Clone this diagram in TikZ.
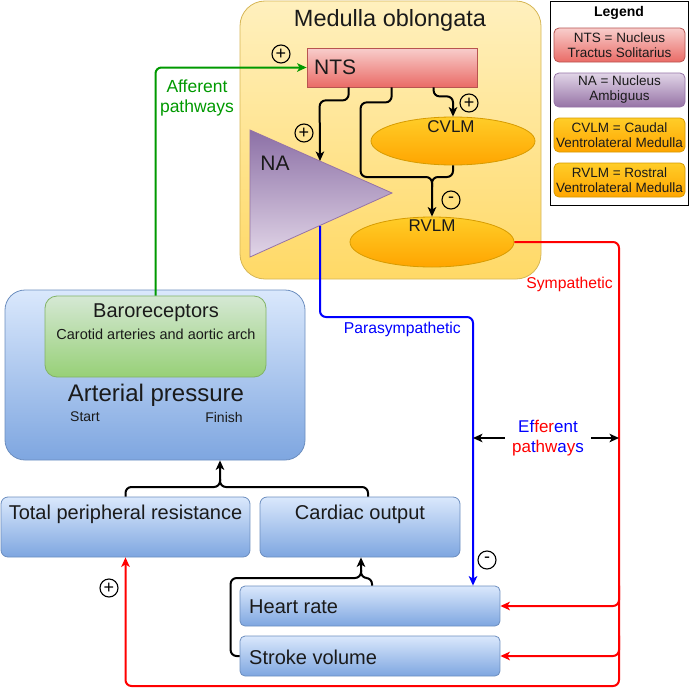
\documentclass[tikz,border=0pt]{standalone}
\usepackage{fontspec}
\setmainfont{Liberation Sans}
\usetikzlibrary{arrows.meta,calc,shapes.geometric}
\definecolor{medtop}{HTML}{FFF0BE}
\definecolor{medbot}{HTML}{FFD966}
\definecolor{medbd}{HTML}{D6B656}
\definecolor{redtop}{HTML}{F8CECC}
\definecolor{redbot}{HTML}{EA6B66}
\definecolor{redbd}{HTML}{B85450}
\definecolor{purdark}{HTML}{8C70A6}
\definecolor{purlight}{HTML}{E1D5E7}
\definecolor{purbd}{HTML}{9673A6}
\definecolor{orgtop}{HTML}{FFCD28}
\definecolor{orgbot}{HTML}{FFA500}
\definecolor{orgbd}{HTML}{D79B00}
\definecolor{bluetop}{HTML}{DAE8FC}
\definecolor{bluebot}{HTML}{7EA6E0}
\definecolor{bluebd}{HTML}{6C8EBF}
\definecolor{grntop}{HTML}{D5E8D4}
\definecolor{grnbot}{HTML}{97D077}
\definecolor{grnbd}{HTML}{82B366}
\definecolor{txt}{HTML}{1A1A1A}
\definecolor{afgreen}{HTML}{009900}
\newcommand{\B}[1]{\textcolor{blue}{#1}}
\newcommand{\R}[1]{\textcolor{red}{#1}}
\begin{document}
\begin{tikzpicture}[x=1pt,y=-1pt,
  fs/.style 2 args={font=\fontsize{#1}{#2}\selectfont},
  >={Stealth[length=9.5pt,width=8.5pt,inset=2.5pt]},
  shape box/.style={rectangle, inner sep=0pt, line width=0.8pt},
  bluebox/.style={shape box, draw=bluebd, top color=bluetop, bottom color=bluebot},
  grnbox/.style={shape box, draw=grnbd, top color=grntop, bottom color=grnbot},
  redbox/.style={shape box, draw=redbd, top color=redtop, bottom color=redbot},
  purbox/.style={shape box, draw=purbd, top color=purlight, bottom color=purbd},
  orgbox/.style={shape box, draw=orgbd, top color=orgtop, bottom color=orgbot},
  oval/.style={ellipse, inner sep=0pt, line width=0.8pt, draw=orgbd, top color=orgtop, bottom color=orgbot},
  sign/.style={circle, draw, line width=1.1pt, inner sep=0pt, minimum size=18pt, fs={18}{18}},
  blk/.style={line width=2pt, black, rounded corners=6pt},
  red line/.style={line width=2pt, red, rounded corners=6pt},
  blue line/.style={line width=2pt, blue, rounded corners=6pt},
  green line/.style={line width=2pt, afgreen, rounded corners=6pt},
  legtxt/.style={fs={13.5}{15}, align=center, text=txt}
]
\useasboundingbox (0,0) rectangle (690,696);

% Medulla
\node[shape box, draw=medbd, top color=medtop, bottom color=medbot, rounded corners=25pt,
      minimum width=301pt, minimum height=278pt] (med) at (390.5,140) {};
\node[fs={23.5}{28}, text=txt] (medt) at (390,20) {Medulla oblongata};

% NTS
\node[redbox, minimum width=170pt, minimum height=39pt] (NTS) at (392,67.5) {};
\node[fs={21}{24}, text=txt, anchor=west, inner sep=0pt] (NTSt) at (314,67.5) {NTS};

% NA triangle
\path[draw=purbd, line width=0.8pt, top color=purdark, bottom color=purlight]
  (250,130) -- (250,257) -- (392,193) -- cycle;
\node[fs={21}{24}, text=txt] (NA) at (275,163) {NA};
\coordinate (NAin) at (320,161);
\coordinate (NAout) at (320,226);

% CVLM / RVLM
\node[oval, minimum width=164pt, minimum height=48pt] (CVLM) at (453,141) {};
\node[fs={17}{19}, text=txt] (CVLMt) at (451,127) {CVLM};
\node[oval, minimum width=164pt, minimum height=50pt] (RVLM) at (432,242) {};
\node[fs={17}{19}, text=txt] (RVLMt) at (432,226) {RVLM};
\coordinate (join) at (432,177);

% Legend
\node[shape box, draw=black, line width=0.9pt, fill=white, minimum width=138pt, minimum height=204pt] (leg) at (619,103.5) {};
\node (legt) at (619,13) {\fontsize{14}{16}\selectfont\bfseries Legend};
\node[redbox, rounded corners=5pt, minimum width=131pt, minimum height=34pt, legtxt] (l1) at (619.5,45) {NTS = Nucleus\\Tractus Solitarius};
\node[purbox, rounded corners=5pt, minimum width=131pt, minimum height=34pt, legtxt] (l2) at (619.5,90) {NA = Nucleus\\Ambiguus};
\node[orgbox, rounded corners=5pt, minimum width=131pt, minimum height=34pt, legtxt] (l3) at (619.5,135) {CVLM = Caudal\\Ventrolateral Medulla};
\node[orgbox, rounded corners=5pt, minimum width=131pt, minimum height=34pt, legtxt] (l4) at (619.5,180) {RVLM = Rostral\\Ventrolateral Medulla};

% Arterial pressure
\node[bluebox, rounded corners=20pt, minimum width=300pt, minimum height=170pt] (AP) at (155,375) {};
\node[grnbox, rounded corners=12pt, minimum width=221pt, minimum height=81pt] (Baro) at (155.5,336.5) {};
\node[fs={20}{24}, text=txt] (barot) at (156,313) {Baroreceptors};
\node[fs={14.5}{17}, text=txt] (carot) at (156,334) {Carotid arteries and aortic arch};
\node[fs={24}{28}, text=txt] (APt) at (156,395) {Arterial pressure};
\node[fs={14}{16}, text=txt] (start) at (85,417) {Start};
\node[fs={14}{16}, text=txt] (finish) at (224,417) {Finish};

% Lower boxes
\node[bluebox, rounded corners=7pt, minimum width=249pt, minimum height=60pt] (TPR) at (125.5,527) {};
\node[fs={20}{24}, text=txt] (TPRt) at (125.5,514) {Total peripheral resistance};
\node[bluebox, rounded corners=7pt, minimum width=200pt, minimum height=60pt] (CO) at (360,527) {};
\node[fs={20}{24}, text=txt] (COt) at (360,514) {Cardiac output};
\node[bluebox, rounded corners=5pt, minimum width=260pt, minimum height=40pt] (HR) at (370,606) {};
\node[fs={20}{24}, text=txt, anchor=west, inner sep=0pt] (HRt) at (249,607) {Heart rate};
\node[bluebox, rounded corners=5pt, minimum width=260pt, minimum height=40pt] (SV) at (370,656) {};
\node[fs={20}{24}, text=txt, anchor=west, inner sep=0pt] (SVt) at (249,657) {Stroke volume};

% Signs
\node[sign] (s1) at (281,54) {+};
\node[sign] (s2) at (304,133) {+};
\node[sign] (s3) at (469,103) {+};
\node[sign] (s4) at (451,200) {-};
\node[sign] (s5) at (487,560) {-};
\node[sign] (s6) at (109,588) {+};

% Labels
\node[fs={17.5}{20}, text=afgreen, align=center] (aff) at (197,98) {Afferent\\pathways};
\node[fs={15.7}{19}, text=blue, anchor=east, inner sep=0pt] (para) at (461,329) {Parasympathetic};
\node[fs={15.7}{19}, text=red, anchor=east, inner sep=0pt] (symp) at (613,284) {Sympathetic};
\node[fs={17}{19.5}, align=center, inner xsep=7pt, inner ysep=0pt] (eff) at (548,438)
  {\B{Ef}\R{fer}\B{ent}\\\R{pa}\B{t}\R{hw}\B{a}\R{y}\B{s}};

% Medulla connectors
\draw[blk,->] ([xshift=42pt]NTS.south west) -- ++(0,13) -- ++(-29,0) -- (NAin);
\draw[blk,->] ([xshift=127pt]NTS.south west) -- ++(0,9) -| (CVLM.north);
\draw[blk,->] ([xshift=85pt]NTS.south west) -- ++(0,15) -- ++(-31,0) |- (join) -- (RVLM.north);
\draw[blk] (CVLM.south) |- (join) -- ++(0,10);

% Afferent
\draw[green line,->] (Baro.north) |- (NTS.west);

% Parasympathetic
\coordinate (bx) at (473,317);
\draw[blue line,->] (NAout) |- (bx) -- (bx |- HR.north);

% Sympathetic
\coordinate (rc) at (619,686);
\draw[red line,->] (RVLM.east) -| (rc) -| (TPR.south);
\draw[red line,->] (rc |- HR.north) -- (rc |- HR.east) -- (HR.east);
\draw[red line,->] (rc |- SV.north) -- (rc |- SV.east) -- (SV.east);

% Efferent arrows
\draw[line width=2pt,->] (eff.west) -- (eff.west -| bx);
\draw[line width=2pt,->] (eff.east) -- (eff.east -| rc);

% To arterial pressure
\coordinate (apj) at (220,487);
\draw[blk,->] (TPR.north) |- (apj) -- (apj |- AP.south);
\draw[blk] ([xshift=8pt]CO.north) |- (apj) -- ++(0,-8);

% To cardiac output
\coordinate (coj) at (361,578);
\draw[blk,->] ([xshift=2pt]HR.north) |- (coj) -- (coj |- CO.south);
\draw[blk] (SV.west) -- ++(-9,0) |- (coj) -- ++(0,-8);
\end{tikzpicture}
\end{document}
